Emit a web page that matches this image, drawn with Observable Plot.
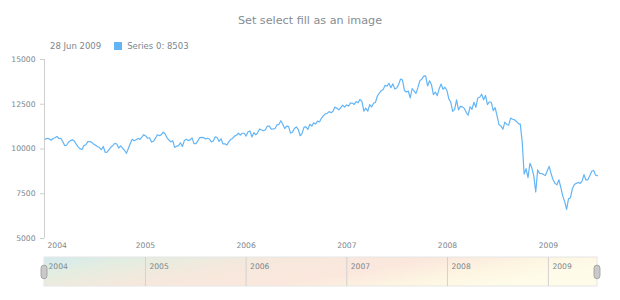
<!DOCTYPE html>
<html>
<head>
<meta charset="utf-8">
<script src="https://cdn.jsdelivr.net/npm/d3@7"></script>
<script src="https://cdn.jsdelivr.net/npm/@observablehq/plot@0.6"></script>
<style>
  html, body { margin: 0; padding: 0; background: #ffffff; }
  body { width: 620px; height: 300px; position: relative; overflow: hidden; font-family: "DejaVu Sans", sans-serif; }
  #title { position: absolute; left: 0; width: 620px; top: 14px; text-align: center; font-size: 11.2px; color: #858d94; }
  #legend { position: absolute; left: 50px; top: 41px; font-size: 8.5px; color: #7c868e; display: flex; align-items: center; white-space: nowrap; }
  #legend .sw { display: inline-block; width: 8px; height: 8px; background: #64b5f6; margin: 0 5px 0 13px; }
  #main { position: absolute; left: 0; top: 52px; }
  #scroller { position: absolute; left: 0; top: 252px; }
</style>
</head>
<body>
<div id="title">Set select fill as an image</div>
<div id="legend"><span id="legDate"></span><span class="sw"></span><span id="legVal"></span></div>
<div id="main"></div>
<div id="scroller"></div>
<script>
// Weekly values (Sundays), starting 2004-01-04
const startDate = "2004-01-04";
const v2004 = [10540,10600,10570,10490, 10590,10630,10700,10580,10600, 10420,10190,10210,10380,
  10470,10510,10450,10270, 10120,10010,9970,10190,10240, 10410,10420,10370,10280,
  10210,10140,10080,9960, 10140,9815,9825,9970,10110, 10200,10310,10280,10050,
  10180,10050,9930,9760,10030, 10310,10540,10460,10520, 10590,10540,10660,10800];
const v2005 = [10730,10600,10630,10390,10430, 10590,10800,10750,10790, 10940,10850,10630,10500,
  10400,10460,10090,10160, 10190,10350,10140,10470,10540, 10470,10510,10620,10300,
  10300,10450,10640,10650,10640, 10560,10600,10560,10400, 10450,10680,10640,10420,
  10570,10290,10290,10220,10400, 10530,10590,10720,10770, 10880,10780,10880,10880];
const v2006 = [10720,10960,11010,10670,10910, 10790,10920,11120,11060, 11020,11080,11280,11280,
  11110,11120,11140,11350,11380, 11580,11380,11140,11280, 11250,10890,10940,11150,
  11230,11090,10740,10870,11220, 11240,11090,11380,11280, 11460,11390,11560,11510,
  11720,11850,11960,12000,12090, 12030,12110,12340,12280, 12190,12310,12450,12340,12460];
const v2007 = [12400,12560,12570,12490, 12650,12580,12770,12650, 12110,12280,12110,12480,
  12350,12560,12610,12960,13120, 13260,13330,13560,13510, 13670,13420,13640,13360,
  13410,13610,13910,13850,13270, 13180,13240,12850,13380, 13240,13110,13440,13820,13900,
  14070,14090,13520,13810, 13600,13040,13180,12980, 13370,13630,13340,13450,13270];
const v2008 = [12800,12610,12100,12210, 12740,12180,12380,12350, 12270,12040,11890,12360,12220,
  12610,12330,12850,12890, 13060,12750,12990,12480, 12640,12600,12140,12310,11840,
  11350,11290,11100,11500, 11370,11330,11730,11660,11630, 11540,11420,11390,10400,
  8600,8900,8400,9200, 8950,8500,7600,8830,8640, 8630,8580,8520,8780];
const v2009 = [9030,8600,8280,8080, 8000,8280,7850,7370, 7060,6630,7220,7280,7780,
  8020,8080,8130,8080, 8210,8570,8270,8280,8500, 8760,8800,8540,8503];

const yTicks = [5000, 7500, 10000, 12500, 15000];
const yearLabels = ["2004", "2005", "2006", "2007", "2008", "2009"];
const domainStart = "2004-01-01";
const domainEnd = "2009-06-28";
const legendDate = "28 Jun 2009";
const seriesName = "Series 0";

const values = [...v2004, ...v2005, ...v2006, ...v2007, ...v2008, ...v2009];
const t0 = new Date(startDate + "T00:00:00Z");
const data = values.map((v, i) => ({date: d3.utcWeek.offset(t0, i), value: v}));
const yearDates = yearLabels.map(y => new Date(y + "-01-01T00:00:00Z"));
const xDomain = [new Date(domainStart + "T00:00:00Z"), new Date(domainEnd + "T00:00:00Z")];

document.getElementById("legDate").textContent = legendDate;
document.getElementById("legVal").textContent = seriesName + ": " + values[values.length - 1];

const grey = "#7c868e";
const lineGrey = "#cecece";

const main = Plot.plot({
  width: 620, height: 200,
  marginTop: 7, marginBottom: 14, marginLeft: 44, marginRight: 23,
  style: {fontFamily: "DejaVu Sans, sans-serif", fontSize: "7.6px", background: "transparent"},
  x: {type: "utc", domain: xDomain, axis: null},
  y: {domain: [5000, 15000], axis: null},
  marks: [
    Plot.axisY(yTicks, {tickSize: 4, tickPadding: 5, tickFormat: d => String(d), stroke: lineGrey, fill: grey, label: null}),
    Plot.ruleX([xDomain[0]], {stroke: lineGrey}),
    Plot.line(data, {x: "date", y: "value", stroke: "#64b5f6", strokeWidth: 1.2}),
    Plot.text(yearDates.slice(0, 1), {x: d => d, text: d => String(d.getUTCFullYear()), frameAnchor: "bottom", dy: 9, dx: 3, textAnchor: "start", fill: grey}),
    Plot.text(yearDates.slice(1), {x: d => d, text: d => String(d.getUTCFullYear()), frameAnchor: "bottom", dy: 9, fill: grey})
  ]
});
document.getElementById("main").appendChild(main);

const scroller = Plot.plot({
  width: 620, height: 48,
  marginTop: 5, marginBottom: 14, marginLeft: 44, marginRight: 23,
  style: {fontFamily: "DejaVu Sans, sans-serif", fontSize: "7.6px", background: "transparent", overflow: "visible"},
  x: {type: "utc", domain: xDomain, axis: null},
  y: {domain: [0, 1], axis: null},
  marks: [
    Plot.rect([0], {x1: () => xDomain[0], x2: () => xDomain[1], y1: 0, y2: 1, fill: "url(#scrollGrad)", stroke: "#e6e6e6", strokeWidth: 1}),
    Plot.ruleX(yearDates.slice(1), {x: d => d, y1: 0, y2: 1, stroke: "#d2d2d2"}),
    Plot.text(yearDates, {x: d => (d < xDomain[0] ? xDomain[0] : d), text: d => String(d.getUTCFullYear()), frameAnchor: "top", dy: 6, dx: 4, textAnchor: "start", fill: grey}),
    Plot.rect(xDomain, {x1: d => d, x2: d => d, y1: 0.25, y2: 0.72, insetLeft: -3, insetRight: -3, rx: 3, fill: "#c9c9c9", stroke: "#9a9a9a", strokeWidth: 0.8})
  ]
});
d3.select(scroller).insert("defs", ":first-child").html(
  '<linearGradient id="scrollGrad" x1="0" y1="0" x2="1" y2="0.3">' +
  '<stop offset="0" stop-color="#d3eaee"/>' +
  '<stop offset="0.18" stop-color="#e4ede0"/>' +
  '<stop offset="0.4" stop-color="#f6e8dc"/>' +
  '<stop offset="0.65" stop-color="#fbe7dd"/>' +
  '<stop offset="0.85" stop-color="#fdf5e2"/>' +
  '<stop offset="1" stop-color="#fefbe8"/>' +
  '</linearGradient>'
);
document.getElementById("scroller").appendChild(scroller);
</script>
</body>
</html>
